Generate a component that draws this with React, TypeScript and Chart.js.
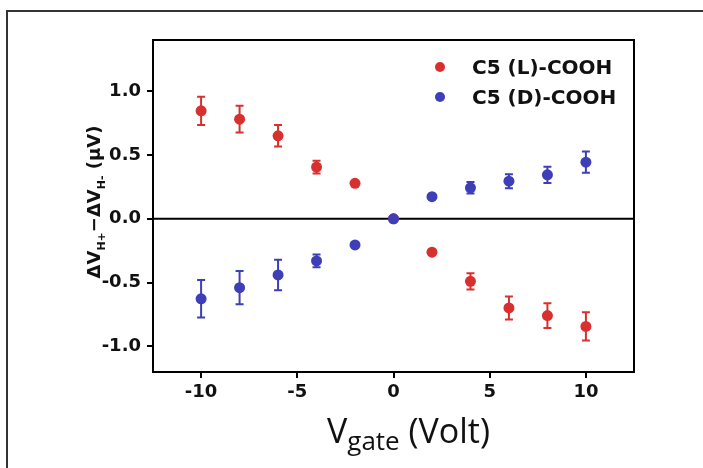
import React, { useEffect, useRef } from 'react';
import { Chart, registerables } from 'chart.js';

Chart.register(...registerables);

// ---- Data ----
const vgate = [-10, -8, -6, -4, -2, 0, 2, 4, 6, 8, 10];
const lValues = [0.845, 0.78, 0.65, 0.405, 0.278, 0, -0.262, -0.49, -0.698, -0.758, -0.843];
const lErrors = [0.11, 0.105, 0.085, 0.05, 0.015, 0.01, 0.015, 0.063, 0.09, 0.097, 0.11];
const dValues = [-0.627, -0.54, -0.44, -0.33, -0.205, 0, 0.173, 0.242, 0.294, 0.344, 0.443];
const dErrors = [0.147, 0.13, 0.12, 0.05, 0.015, 0.01, 0.015, 0.045, 0.055, 0.063, 0.083];
const xTicks = [-10, -5, 0, 5, 10];
const yTicks = [-1.0, -0.5, 0, 0.5, 1.0];
const seriesLabels = ['C5 (L)-COOH', 'C5 (D)-COOH'];
const seriesColors = ['#d8302f', '#3e3eb8'];
const xTitleMain = 'V';
const xTitleSub = 'gate';
const xTitleUnit = ' (Volt)';

const errorSets = [lErrors, dErrors];

const customPlugin = {
  id: 'customDraw',
  beforeDraw(chart: any) {
    const ctx = chart.ctx;
    ctx.save();
    ctx.strokeStyle = '#333';
    ctx.lineWidth = 2;
    ctx.beginPath();
    ctx.moveTo(7, 468);
    ctx.lineTo(7, 11);
    ctx.lineTo(703, 11);
    ctx.stroke();
    ctx.restore();
  },
  beforeDatasetsDraw(chart: any) {
    const ctx = chart.ctx;
    const xs = chart.scales.x;
    const ys = chart.scales.y;
    const area = chart.chartArea;
    ctx.save();
    // zero line
    ctx.strokeStyle = '#000';
    ctx.lineWidth = 2;
    const y0 = ys.getPixelForValue(0);
    ctx.beginPath();
    ctx.moveTo(area.left, y0);
    ctx.lineTo(area.right, y0);
    ctx.stroke();
    // error bars
    chart.data.datasets.forEach((ds: any, i: number) => {
      const errs = errorSets[i];
      ctx.strokeStyle = ds.backgroundColor;
      ctx.lineWidth = 2;
      ds.data.forEach((p: any, j: number) => {
        const x = xs.getPixelForValue(p.x);
        const yt = ys.getPixelForValue(p.y + errs[j]);
        const yb = ys.getPixelForValue(p.y - errs[j]);
        ctx.beginPath();
        ctx.moveTo(x, yt);
        ctx.lineTo(x, yb);
        ctx.moveTo(x - 4, yt);
        ctx.lineTo(x + 4, yt);
        ctx.moveTo(x - 4, yb);
        ctx.lineTo(x + 4, yb);
        ctx.stroke();
      });
    });
    ctx.restore();
  },
  afterDraw(chart: any) {
    const ctx = chart.ctx;
    const area = chart.chartArea;
    ctx.save();
    // box
    ctx.strokeStyle = '#000';
    ctx.lineWidth = 2;
    ctx.strokeRect(area.left, area.top, area.right - area.left, area.bottom - area.top);

    // legend
    const lx = area.left + 287;
    const tx = area.left + 319;
    const rows = [area.top + 27, area.top + 57];
    seriesLabels.forEach((lab, i) => {
      ctx.fillStyle = seriesColors[i];
      ctx.beginPath();
      ctx.arc(lx, rows[i], 5, 0, Math.PI * 2);
      ctx.fill();
      ctx.fillStyle = '#111';
      ctx.font = 'bold 20px "DejaVu Sans"';
      ctx.textBaseline = 'middle';
      ctx.textAlign = 'left';
      ctx.fillText(lab, tx, rows[i] + 2);
    });

    // x title
    ctx.fillStyle = '#111';
    ctx.textBaseline = 'alphabetic';
    ctx.textAlign = 'left';
    let cx = 327;
    ctx.font = '34px "Open Sans"';
    ctx.fillText(xTitleMain, cx, 443);
    cx += ctx.measureText(xTitleMain).width;
    ctx.font = '26px "Open Sans"';
    ctx.fillText(xTitleSub, cx, 450);
    cx += ctx.measureText(xTitleSub).width;
    ctx.font = '34px "Open Sans"';
    ctx.fillText(xTitleUnit, cx, 443);

    // y title (rotated, with subscripts)
    const parts: [string, boolean][] = [
      ['\u0394V', false],
      ['H+', true],
      ['\u2212\u0394V', false],
      ['H-', true],
      [' (\u03bcV)', false],
    ];
    const mainFont = 'bold 18px "DejaVu Sans"';
    const subFont = 'bold 11px "DejaVu Sans"';
    let total = 0;
    parts.forEach(([t, sub]) => {
      ctx.font = sub ? subFont : mainFont;
      total += ctx.measureText(t).width;
    });
    ctx.translate(100, 202);
    ctx.rotate(-Math.PI / 2);
    let px = -total / 2;
    parts.forEach(([t, sub]) => {
      ctx.font = sub ? subFont : mainFont;
      ctx.fillText(t, px, sub ? 5 : 0);
      px += ctx.measureText(t).width;
    });
    ctx.restore();
  },
};

export default function App() {
  const ref = useRef<HTMLCanvasElement | null>(null);
  useEffect(() => {
    document.body.style.margin = '0';
    const canvas = ref.current;
    if (!canvas) return;
    const chart = new Chart(canvas, {
      type: 'scatter',
      data: {
        datasets: [
          {
            label: seriesLabels[0],
            data: vgate.map((x, i) => ({ x, y: lValues[i] })),
            backgroundColor: seriesColors[0],
            borderColor: seriesColors[0],
            pointRadius: 5.5,
            borderWidth: 0,
            order: 1,
          },
          {
            label: seriesLabels[1],
            data: vgate.map((x, i) => ({ x, y: dValues[i] })),
            backgroundColor: seriesColors[1],
            borderColor: seriesColors[1],
            pointRadius: 5.5,
            borderWidth: 0,
            order: 0,
          },
        ],
      },
      options: {
        responsive: false,
        animation: false,
        devicePixelRatio: 1,
        layout: { padding: { left: 0, top: 40, right: 69, bottom: 0 } },
        plugins: { legend: { display: false }, tooltip: { enabled: false } },
        scales: {
          x: {
            type: 'linear',
            min: -12.5,
            max: 12.5,
            afterBuildTicks: (s: any) => {
              s.ticks = xTicks.map((v) => ({ value: v }));
            },
            afterFit: (s: any) => {
              s.height = 96;
            },
            grid: { drawOnChartArea: false, drawTicks: true, tickLength: 6, color: '#000', lineWidth: 2 },
            border: { display: true, color: '#000', width: 2 },
            ticks: {
              font: { family: 'DejaVu Sans', weight: 'bold', size: 18 },
              color: '#111',
              padding: 4,
              maxRotation: 0,
              autoSkip: false,
              callback: (v: any) => String(v),
            },
          },
          y: {
            type: 'linear',
            min: -1.2,
            max: 1.4,
            afterBuildTicks: (s: any) => {
              s.ticks = yTicks.map((v) => ({ value: v }));
            },
            afterFit: (s: any) => {
              s.width = 153;
            },
            grid: { drawOnChartArea: false, drawTicks: true, tickLength: 6, color: '#000', lineWidth: 2 },
            border: { display: true, color: '#000', width: 2 },
            ticks: {
              font: { family: 'DejaVu Sans', weight: 'bold', size: 18 },
              color: '#111',
              padding: 6,
              autoSkip: false,
              callback: (v: any) => Number(v).toFixed(1),
            },
          },
        },
      },
      plugins: [customPlugin],
    } as any);
    return () => chart.destroy();
  }, []);
  return (
    <div style={{ width: 703, height: 468 }}>
      <canvas ref={ref} width={703} height={468} style={{ display: 'block' }} />
    </div>
  );
}
